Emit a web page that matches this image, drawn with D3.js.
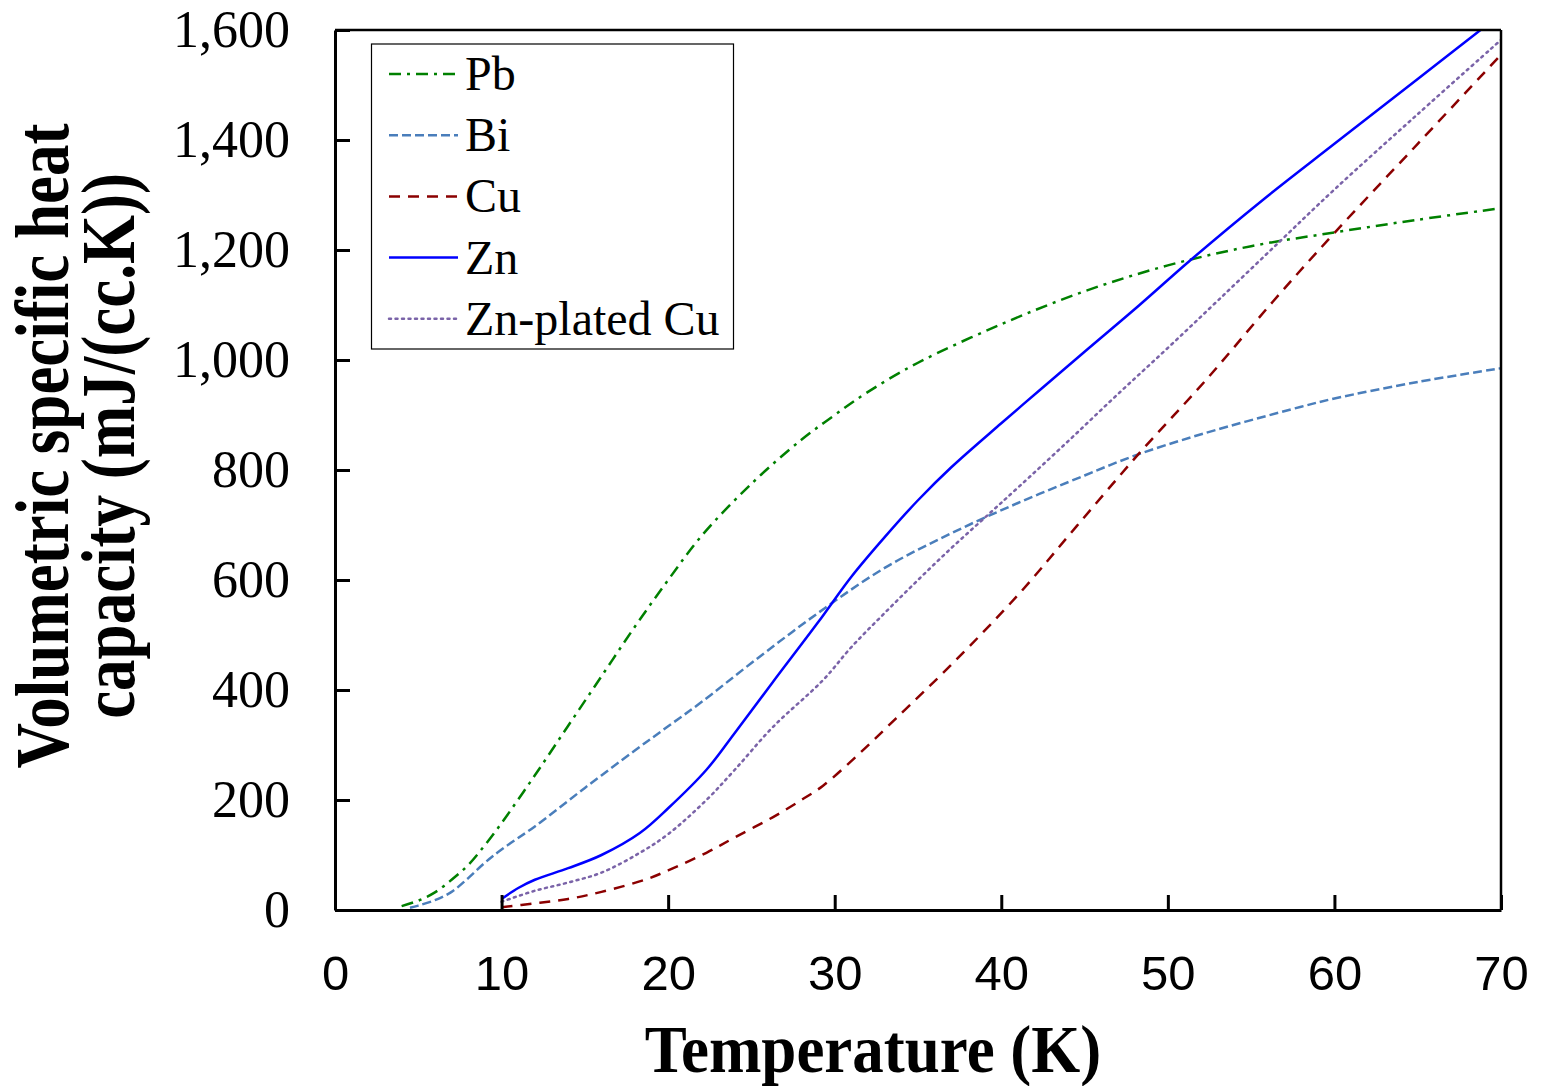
<!DOCTYPE html>
<html><head><meta charset="utf-8">
<script src="https://cdn.jsdelivr.net/npm/d3@7"></script>
<style>body{margin:0;background:#fff}</style></head>
<body><svg id="c" width="1546" height="1086"></svg>
<script>
const seriesNames = ["Pb","Bi","Cu","Zn","Zn-plated Cu"];
const pbT = [4,5,6,7,8,9,10,12,14,16,18,20,22,25,28,30,32,35,40,45,50,55,60,65,70];
const pbV = [7,17,32,55,82,118,158,245,335,425,515,600,680,775,855,900,942,995,1065,1125,1172,1207,1232,1255,1276];
const biT = [4.5,5,6,7,8,9,10,12,15,18,20,22,25,29,33,37,41,45,48,52,58,60,65,70];
const biV = [4,8,18,33,58,86,110,152,222,290,334,378,449,540,622,685,740,790,826,865,915,930,960,985];
const cuT = [10,12,14,16,18.7,20,22.3,24,26.3,28,29.3,31.5,33.7,37.1,41.1,44.5,48.3,52.3,56.3,60,65,70];
const cuV = [5,12,20,33,56,72,104,132,169,200,226,285,349,449,576,697,831,964,1106,1231,1393,1555];
const znT = [10,11,12,14,16,18.3,20,22.3,24,26.3,29,31,33,35,37,40,42.3,45,48.3,51.3,55.7,60,65,70];
const znV = [20,40,55,76,100,140,185,255,322,415,523,606,678,745,805,885,945,1015,1100,1180,1291,1393,1511,1629];
const zpT = [10,12,14,16,18.3,20,22.3,24,26.3,29.3,31,33,35,37,39,41,44,47,50,53,56.7,60,65,70];
const zpV = [15,35,50,68,104,138,200,255,333,418,478,540,600,658,713,768,852,938,1022,1108,1215,1310,1447,1582];
const xTicks = [0,10,20,30,40,50,60,70];
const yTicks = [0,200,400,600,800,1000,1200,1400,1600];

const series = [
  {name:"Pb", T:pbT, V:pbV, color:"#008000", dash:"12,6,3,6", width:2.5},
  {name:"Bi", T:biT, V:biV, color:"#4A7EBB", dash:"9,4", width:2.5},
  {name:"Cu", T:cuT, V:cuV, color:"#8B0000", dash:"11,8", width:2.5},
  {name:"Zn", T:znT, V:znV, color:"#0000FF", dash:null, width:2.5},
  {name:"Zn-plated Cu", T:zpT, V:zpV, color:"#7A63A8", dash:"2,4.5", width:2.5}
];

const svg = d3.select("#c");
const L=335, R=1501, T=30, B=910;
const x = d3.scaleLinear().domain([0,70]).range([L,R]);
const y = d3.scaleLinear().domain([0,1600]).range([B,T]);

svg.append("defs").append("clipPath").attr("id","clip")
  .append("rect").attr("x",L).attr("y",T).attr("width",R-L).attr("height",B-T);

const line = d3.line().x(d=>x(d[0])).y(d=>y(d[1])).curve(d3.curveCatmullRom.alpha(0.5));
const g = svg.append("g").attr("clip-path","url(#clip)");
series.forEach(s=>{
  const pts = s.T.map((t,i)=>[t,s.V[i]]);
  g.append("path").attr("d",line(pts)).attr("fill","none")
    .attr("stroke",s.color).attr("stroke-width",s.width)
    .attr("stroke-dasharray",s.dash).attr("stroke-linecap", s.name==="Zn-plated Cu"?"round":"butt");
});

// frame
svg.append("line").attr("x1",L).attr("x2",R).attr("y1",T).attr("y2",T).attr("stroke","#000").attr("stroke-width",2.5);
svg.append("line").attr("x1",R).attr("x2",R).attr("y1",T).attr("y2",B).attr("stroke","#000").attr("stroke-width",2.5);

// axes
const xAxis = d3.axisBottom(x).tickValues(xTicks).tickSizeInner(-15).tickSizeOuter(0).tickPadding(45);
const xg = svg.append("g").attr("transform",`translate(0,${B})`).call(xAxis);
xg.select(".domain").attr("stroke","#000").attr("stroke-width",3);
xg.selectAll(".tick line").attr("stroke","#000").attr("stroke-width",3);
xg.selectAll(".tick text").attr("font-family","'Liberation Sans', Arial, sans-serif").attr("font-size",49).attr("fill","#000");

const yAxis = d3.axisLeft(y).tickValues(yTicks).tickSizeInner(-15).tickSizeOuter(0).tickPadding(45).tickFormat(d3.format(","));
const yg = svg.append("g").attr("transform",`translate(${L},0)`).call(yAxis);
yg.select(".domain").attr("stroke","#000").attr("stroke-width",3);
yg.selectAll(".tick line").attr("stroke","#000").attr("stroke-width",3);
yg.selectAll(".tick text").attr("font-family","'Liberation Serif', 'Times New Roman', serif").attr("font-size",52).attr("fill","#000");

// titles
svg.append("text").attr("transform","translate(873,1072) scale(1,1.07)").attr("text-anchor","middle")
  .attr("font-family","'Liberation Serif', 'Times New Roman', serif").attr("font-weight","bold").attr("font-size",63)
  .text("Temperature (K)");
const yt = svg.append("text").attr("transform","translate(0,446) rotate(-90) scale(1,1.2)").attr("text-anchor","middle")
  .attr("font-family","'Liberation Serif', 'Times New Roman', serif").attr("font-weight","bold").attr("font-size",63);
yt.append("tspan").attr("x",0).attr("y",56.5).text("Volumetric specific heat");
yt.append("tspan").attr("x",0).attr("y",111.5).text("capacity (mJ/(cc.K))");

// legend
const lg = svg.append("g");
lg.append("rect").attr("x",371.5).attr("y",44).attr("width",362).attr("height",305)
  .attr("fill","#fff").attr("stroke","#000").attr("stroke-width",1.2);
series.forEach((s,i)=>{
  const cy = 74 + i*61.2;
  lg.append("line").attr("x1",389).attr("x2",458).attr("y1",cy).attr("y2",cy)
    .attr("stroke",s.color).attr("stroke-width",s.width).attr("stroke-dasharray",s.dash)
    .attr("stroke-linecap", s.name==="Zn-plated Cu"?"round":"butt");
  lg.append("text").attr("x",465).attr("y",cy+16).attr("font-family","'Liberation Serif', 'Times New Roman', serif")
    .attr("font-size",48).attr("fill","#000").text(s.name);
});
</script></body></html>
